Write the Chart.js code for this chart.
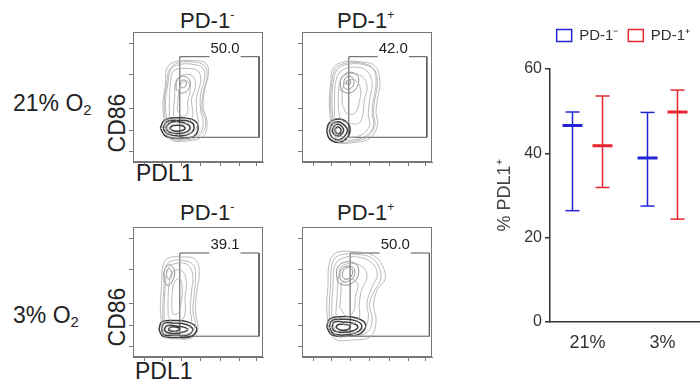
<!DOCTYPE html>
<html>
<head>
<meta charset="utf-8">
<script src="https://cdn.jsdelivr.net/npm/chart.js@4.4.1/dist/chart.umd.min.js"></script>
<style>
  body { margin: 0; background: #fff; width: 700px; height: 382px; overflow: hidden; position: relative;
         font-family: 'Liberation Sans', Arial, sans-serif; color: #222; }
  canvas { position: absolute; }
  .lbl { position: absolute; line-height: 1; white-space: nowrap; }
  .lbl sup { font-size: 0.55em; vertical-align: 0; position: relative; top: -0.75em; }
  .lbl sub { font-size: 0.65em; vertical-align: 0; position: relative; top: 0.3em; }
  .rot { transform: translate(-50%, -50%) rotate(-90deg); }
</style>
</head>
<body>

<div class="lbl" style="left:180px; top:10px; font-size:22px;">PD-1<sup>-</sup></div>
<div class="lbl" style="left:337px; top:10px; font-size:22px;">PD-1<sup>+</sup></div>
<div class="lbl" style="left:180px; top:202px; font-size:22px;">PD-1<sup>-</sup></div>
<div class="lbl" style="left:337px; top:202px; font-size:22px;">PD-1<sup>+</sup></div>

<div class="lbl" style="left:13px; top:92px; font-size:23px;">21% O<sub>2</sub></div>
<div class="lbl" style="left:13px; top:304px; font-size:23px;">3% O<sub>2</sub></div>

<div class="lbl rot" style="left:117px; top:123px; font-size:23px;">CD86</div>
<div class="lbl rot" style="left:117px; top:317px; font-size:23px;">CD86</div>
<div class="lbl" style="left:136px; top:162px; font-size:23px;">PDL1</div>
<div class="lbl" style="left:135px; top:360px; font-size:23px;">PDL1</div>

<canvas id="flow1" width="138" height="138" style="left:127px; top:30px;"></canvas>
<canvas id="flow2" width="138" height="138" style="left:296px; top:30px;"></canvas>
<canvas id="flow3" width="138" height="138" style="left:127px; top:225px;"></canvas>
<canvas id="flow4" width="138" height="138" style="left:296px; top:225px;"></canvas>
<canvas id="summary" width="230" height="382" style="left:470px; top:0px;"></canvas>

<script>
// ---- summary chart data ----
const oxygenLevels = ['21%', '3%'];
const seriesNames = ['PD-1\u207B', 'PD-1\u207A'];
const meanNeg = [46.6, 38.9];
const lowNeg = [26.4, 27.5];
const highNeg = [49.8, 49.7];
const meanPos = [41.8, 49.8];
const lowPos = [31.9, 24.4];
const highPos = [53.6, 55.0];

// ---- flow plot data (arbitrary 0-100 log-ish units) ----
const flowTicksX = [9, 23, 37, 52, 67, 82, 95];
const flowTicksY = [8, 24, 41, 67, 91];
const gateValues = ['50.0', '42.0', '39.1', '50.0'];
// [xmin, xmax, ymin, ymax]
const gate1 = [36, 97, 19, 81];
const gate2 = [36, 96, 19, 81];
const gate3 = [36, 97, 16, 80];
const gate4 = [37, 98, 16, 80];

// 21% O2, PD-1-
const envelope1 = [
  [[24,30],[23,45],[25,60],[26,72],[32,77],[45,78],[56,76],[58,68],[55,55],[54,42],[57,30],[54,20],[40,16],[28,18],[24,30]],
  [[25,30],[24,46],[26,61],[28,71],[34,76],[46,77],[55,74],[57,66],[54,53],[53,41],[56,30],[52,21],[40,17],[28,19],[25,30]],
  [[26,31],[25,46],[27,61],[29,71],[36,75],[47,75],[54,72],[55,64],[52,52],[52,40],[54,30],[51,22],[39,18],[29,20],[26,31]],
  [[28,33],[28,48],[29,62],[31,70],[40,72],[50,70],[52,62],[49,50],[49,38],[50,30],[46,23],[37,21],[30,23],[28,33]],
  [[31,36],[32,50],[33,62],[38,67],[46,66],[48,58],[45,48],[46,36],[42,30],[35,30],[31,36]],
  [[34,40],[35,52],[37,60],[42,62],[44,55],[42,46],[42,38],[38,35],[34,40]]
];
const upper1 = [
  [[33,56],[34,63],[39,66],[44,62],[42,55],[37,53],[33,56]],
  [[36,58],[37,62],[40,63],[41,59],[38,57],[36,58]]
];
const core1 = [
  [[21,26],[24,32],[33,34],[45,33],[50,28],[47,20],[36,18],[25,20],[21,26]],
  [[23,26],[26,31],[34,32],[44,31],[47,27],[44,22],[35,20],[26,22],[23,26]],
  [[25,26],[28,30],[35,31],[42,29],[44,26],[41,23],[34,22],[28,23],[25,26]],
  [[28,26],[31,28],[37,28],[40,26],[37,24],[31,24],[28,26]]
];

// 21% O2, PD-1+
const envelope2 = [
  [[22,30],[21,45],[22,60],[24,72],[32,77],[45,77],[56,74],[60,62],[58,48],[57,38],[58,28],[52,18],[40,15],[28,15],[22,22],[22,30]],
  [[23,30],[22,46],[23,61],[26,72],[34,76],[46,76],[55,72],[58,61],[56,48],[55,37],[56,28],[50,19],[39,16],[28,16],[23,30]],
  [[24,31],[23,46],[24,61],[27,71],[35,75],[47,75],[55,71],[57,61],[55,48],[54,37],[55,28],[49,20],[38,17],[28,18],[24,31]],
  [[25,32],[25,48],[26,62],[30,70],[40,73],[50,70],[54,60],[52,48],[51,36],[52,28],[46,21],[36,19],[28,21],[25,32]],
  [[28,40],[28,52],[30,64],[37,68],[46,66],[50,58],[48,48],[47,38],[44,30],[36,30],[30,33],[28,40]],
  [[31,44],[31,54],[34,62],[41,63],[45,56],[44,46],[41,38],[35,37],[31,44]]
];
const upper2 = [
  [[30,55],[30,64],[36,69],[43,66],[42,57],[36,53],[30,55]],
  [[32,58],[33,64],[37,66],[40,62],[38,57],[34,56],[32,58]],
  [[34,60],[35,63],[37,63],[37,60],[34,60]]
];
const core2 = [
  [[19,24],[21,30],[28,33],[35,30],[37,24],[34,18],[28,15],[21,18],[19,24]],
  [[21,24],[23,29],[28,31],[33,28],[35,24],[32,19],[28,17],[23,19],[21,24]],
  [[23,24],[25,28],[28,29],[31,27],[32,24],[30,21],[28,20],[25,21],[23,24]],
  [[25,24],[26,26],[28,27],[30,25],[29,22],[27,22],[25,24]]
];

// 3% O2, PD-1-
const envelope3 = [
  [[22,25],[21,40],[22,55],[23,70],[27,76],[38,77],[48,75],[51,65],[49,50],[48,35],[50,22],[46,15],[33,14],[24,16],[22,25]],
  [[23,27],[23,41],[24,56],[25,69],[30,74],[40,74],[47,70],[48,60],[47,47],[46,35],[48,24],[43,18],[32,17],[24,19],[23,27]],
  [[24,28],[24,42],[25,56],[27,68],[33,72],[42,71],[46,63],[45,50],[44,36],[45,26],[40,20],[31,20],[24,28]],
  [[27,32],[27,45],[28,58],[31,66],[38,66],[41,58],[40,45],[40,33],[36,27],[30,27],[27,32]],
  [[30,36],[30,48],[32,58],[36,60],[38,52],[37,42],[35,34],[31,33],[30,36]]
];
const upper3 = [
  [[24,58],[24,66],[28,71],[32,66],[30,58],[27,55],[24,58]],
  [[26,61],[26,66],[28,68],[30,64],[28,60],[26,61]]
];
const core3 = [
  [[20,21],[22,27],[30,28],[42,27],[49,22],[45,16],[33,15],[23,16],[20,21]],
  [[22,21],[24,26],[31,26],[41,25],[46,21],[42,17],[32,17],[24,17],[22,21]],
  [[24,21],[26,24],[32,24],[39,23],[42,21],[38,19],[31,18],[26,19],[24,21]],
  [[27,21],[29,23],[33,23],[36,22],[34,20],[29,20],[27,21]]
];

// 3% O2, PD-1+
const envelope4 = [
  [[20,25],[19,40],[20,55],[21,72],[26,80],[40,81],[55,78],[62,70],[64,60],[58,52],[55,40],[57,28],[53,16],[38,13],[25,14],[20,25]],
  [[21,27],[21,41],[22,56],[23,71],[28,78],[41,79],[54,76],[60,67],[60,58],[55,50],[52,40],[54,29],[50,19],[37,16],[26,17],[21,27]],
  [[23,28],[23,42],[24,57],[25,70],[31,76],[42,77],[53,73],[58,64],[54,54],[50,42],[51,30],[47,21],[36,18],[27,19],[23,28]],
  [[26,33],[27,47],[28,60],[30,69],[38,72],[47,69],[50,61],[46,52],[44,40],[44,30],[38,25],[30,26],[26,33]],
  [[29,38],[30,50],[31,58],[38,60],[43,56],[41,46],[40,36],[35,31],[29,38]]
];
const upper4 = [
  [[27,59],[27,68],[33,73],[42,71],[43,62],[37,56],[30,56],[27,59]],
  [[29,61],[30,67],[35,70],[40,68],[40,62],[35,58],[31,58],[29,61]],
  [[31,62],[32,67],[36,69],[39,66],[37,61],[33,60],[31,62]]
];
const core4 = [
  [[19,23],[21,29],[29,31],[42,30],[49,25],[45,18],[33,16],[23,17],[19,23]],
  [[21,23],[23,28],[30,29],[41,28],[46,24],[42,19],[32,17],[24,18],[21,23]],
  [[23,23],[25,27],[31,27],[39,26],[43,23],[39,20],[31,19],[25,20],[23,23]],
  [[26,23],[28,25],[33,25],[37,24],[35,21],[29,21],[26,23]]
];

Chart.defaults.font.family = "'Liberation Sans', Arial, sans-serif";
Chart.defaults.color = '#333';

const blue = '#2323d8';
const red = '#e6262e';

// ---- flow plots ----
const boxPlugin = {
  id: 'plotBox',
  afterDraw(chart) {
    const { ctx, chartArea: a } = chart;
    ctx.save();
    ctx.strokeStyle = '#777';
    ctx.lineWidth = 1;
    ctx.strokeRect(a.left + 0.5, a.top + 0.5, a.right - a.left - 1, a.bottom - a.top - 1);
    ctx.restore();
  }
};

const gateLabelPlugin = {
  id: 'gateLabel',
  afterDatasetsDraw(chart, args, opts) {
    const { ctx, scales: { x, y } } = chart;
    const g = opts.gate;
    const px = x.getPixelForValue(g[0] + (g[1] - g[0]) * 0.57);
    const py = y.getPixelForValue(g[3]);
    ctx.save();
    ctx.font = "15px 'Liberation Sans', Arial, sans-serif";
    const w = ctx.measureText(opts.text).width;
    ctx.fillStyle = '#fff';
    ctx.fillRect(px - w / 2 - 1, py - 2, w + 2, 4);
    ctx.fillStyle = '#222';
    ctx.textAlign = 'center';
    ctx.textBaseline = 'alphabetic';
    ctx.fillText(opts.text, px, py - 4);
    ctx.restore();
  }
};

function ringSets(rings, color, width) {
  return rings.map(r => ({
    data: r.map(p => ({ x: p[0], y: p[1] })),
    showLine: true,
    borderColor: color,
    borderWidth: width,
    pointRadius: 0,
    tension: 0.4,
    fill: false
  }));
}

function flowAxis(tickValues, isX) {
  return {
    type: 'linear',
    min: 0,
    max: 100,
    afterBuildTicks: s => { s.ticks = tickValues.map(v => ({ value: v })); },
    afterFit: s => { if (isX) s.height = 6; else s.width = 6; },
    ticks: { display: false },
    grid: { drawOnChartArea: false, drawTicks: true, tickLength: 4, color: '#777' },
    border: { color: '#777', width: 1 }
  };
}

function makeFlowChart(id, envelope, upper, core, gate, gateText) {
  const g = gate;
  const gateData = [[g[0], g[2]], [g[0], g[3]], [g[1], g[3]], [g[1], g[2]], [g[0], g[2]]];
  new Chart(document.getElementById(id), {
    type: 'scatter',
    data: {
      datasets: [
        ...ringSets(envelope, '#a8a8a8', 0.8),
        ...ringSets(upper, '#858585', 0.9),
        ...ringSets(core, '#3c3c3c', 1.5),
        {
          data: gateData.map(p => ({ x: p[0], y: p[1] })),
          showLine: true, borderColor: '#555', borderWidth: 1, pointRadius: 0, tension: 0
        }
      ]
    },
    options: {
      responsive: false,
      animation: false,
      layout: { padding: { top: 2, right: 2, left: 0, bottom: 0 } },
      plugins: {
        legend: { display: false },
        tooltip: { enabled: false },
        gateLabel: { gate: gate, text: gateText }
      },
      scales: {
        x: flowAxis(flowTicksX, true),
        y: flowAxis(flowTicksY, false)
      }
    },
    plugins: [gateLabelPlugin, boxPlugin]
  });
}

makeFlowChart('flow1', envelope1, upper1, core1, gate1, gateValues[0]);
makeFlowChart('flow2', envelope2, upper2, core2, gate2, gateValues[1]);
makeFlowChart('flow3', envelope3, upper3, core3, gate3, gateValues[2]);
makeFlowChart('flow4', envelope4, upper4, core4, gate4, gateValues[3]);

// ---- summary chart (range bars with mean) ----
const whiskerPlugin = {
  id: 'whiskers',
  afterDatasetsDraw(chart) {
    const { ctx, scales: { y } } = chart;
    chart.data.datasets.forEach((ds, di) => {
      const meta = chart.getDatasetMeta(di);
      meta.data.forEach((bar, j) => {
        const range = ds.data[j];
        ctx.save();
        ctx.strokeStyle = ds.backgroundColor;
        ctx.lineWidth = 1.5;
        range.forEach(v => {
          const py = y.getPixelForValue(v);
          ctx.beginPath();
          ctx.moveTo(bar.x - 7, py);
          ctx.lineTo(bar.x + 7, py);
          ctx.stroke();
        });
        ctx.lineWidth = 3;
        const pm = y.getPixelForValue(ds.means[j]);
        ctx.beginPath();
        ctx.moveTo(bar.x - 10, pm);
        ctx.lineTo(bar.x + 10, pm);
        ctx.stroke();
        ctx.restore();
      });
    });
  }
};

// extra gap between legend and plot area
const legendGap = {
  id: 'legendGap',
  afterInit(chart) {
    const fit = chart.legend.fit;
    chart.legend.fit = function() {
      fit.call(this);
      this.height += 16;
    };
  }
};

new Chart(document.getElementById('summary'), {
  type: 'bar',
  data: {
    labels: oxygenLevels,
    datasets: [
      {
        label: seriesNames[0],
        data: lowNeg.map((v, i) => [v, highNeg[i]]),
        means: meanNeg,
        backgroundColor: blue,
        barPercentage: 0.05,
        categoryPercentage: 0.8
      },
      {
        label: seriesNames[1],
        data: lowPos.map((v, i) => [v, highPos[i]]),
        means: meanPos,
        backgroundColor: red,
        barPercentage: 0.05,
        categoryPercentage: 0.8
      }
    ]
  },
  options: {
    responsive: false,
    animation: false,
    layout: { padding: { top: 18, right: 0, left: 0, bottom: 0 } },
    plugins: {
      tooltip: { enabled: false },
      legend: {
        position: 'top',
        align: 'end',
        labels: {
          boxWidth: 15,
          boxHeight: 12,
          padding: 10,
          color: '#333',
          font: { size: 15 },
          generateLabels: chart => chart.data.datasets.map((ds, i) => ({
            text: ds.label,
            fillStyle: 'rgba(0,0,0,0)',
            strokeStyle: ds.backgroundColor,
            lineWidth: 1.5,
            hidden: false,
            datasetIndex: i,
            fontColor: '#333'
          }))
        }
      }
    },
    scales: {
      x: {
        afterFit: s => { s.height = 60; },
        grid: { display: false },
        border: { display: true, color: '#333', width: 1.5 },
        ticks: { font: { size: 18 }, color: '#333', padding: 2 }
      },
      y: {
        min: 0,
        max: 60,
        afterFit: s => { s.width = 80; },
        ticks: { stepSize: 20, font: { size: 16 }, color: '#333', padding: 3 },
        grid: { drawOnChartArea: false, tickLength: 5, color: '#333', lineWidth: 1.5 },
        border: { color: '#333', width: 1.5 },
        title: {
          display: true,
          text: '% PDL1\u207A',
          font: { size: 18 },
          color: '#444',
          padding: { top: 24, bottom: 0 }
        }
      }
    }
  },
  plugins: [whiskerPlugin, legendGap]
});
</script>
</body>
</html>
